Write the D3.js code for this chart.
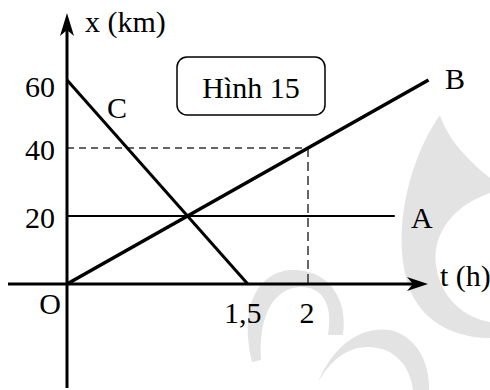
<!DOCTYPE html>
<html>
<head>
<meta charset="utf-8">
<script src="https://cdn.jsdelivr.net/npm/d3@7"></script>
<style>
  html, body { margin: 0; padding: 0; background: #fff; }
  svg { display: block; }
  text { font-family: "Liberation Serif", "DejaVu Serif", serif; fill: #000; }
</style>
</head>
<body>
<svg id="chart"></svg>
<script>
// position-time graph, three moving bodies
const tTicks = [1.5, 2];
const xTicks = [20, 40, 60];
const lineNames = ["A", "B", "C"];
const lineA = [{ t: 0, x: 20 }, { t: 2.72, x: 20 }];
const lineB = [{ t: 0, x: 0 }, { t: 3, x: 60 }];
const lineC = [{ t: 0, x: 60 }, { t: 1.5, x: 0 }];
const guidePoint = { t: 2, x: 40 };
const figureTitle = "Hình 15";

(function () {
    const W = 490, H = 390;
    const svg = d3.select("#chart").attr("width", W).attr("height", H);

    const x = d3.scaleLinear().domain([0, 3]).range([67, 428.5]);
    const y = d3.scaleLinear().domain([0, 60]).range([284, 80]);

    // watermark (light grey flourish behind the graph)
    const wm = svg.append("g").attr("fill", "#e3e3e3");
    wm.append("path").attr("d",
        "M440,115 C405,165 388,250 415,300 C432,328 462,338 490,338 L490,322 " +
        "C465,318 440,298 436,265 C432,232 455,205 490,193 L490,178 " +
        "C468,160 448,140 440,115 Z");
    wm.append("path").attr("d",
        "M252,362 C238,300 262,268 297,270 C330,272 348,300 343,335 L328,335 " +
        "C334,302 320,286 300,287 C276,288 258,312 261,360 Z");
    wm.append("path").attr("d",
        "M318,382 C334,344 362,326 390,330 C416,336 430,362 429,390 L413,390 " +
        "C410,366 395,348 370,347 C346,346 330,362 318,382 Z");

    const g = svg.append("g");

    // dashed guides to (2, 40)
    g.append("line")
        .attr("x1", x(0)).attr("x2", x(guidePoint.t))
        .attr("y1", y(guidePoint.x)).attr("y2", y(guidePoint.x))
        .attr("stroke", "#333").attr("stroke-width", 1.5).attr("stroke-dasharray", "7,5");
    g.append("line")
        .attr("x1", x(guidePoint.t)).attr("x2", x(guidePoint.t))
        .attr("y1", y(guidePoint.x)).attr("y2", y(0))
        .attr("stroke", "#333").attr("stroke-width", 1.5).attr("stroke-dasharray", "9,5");

    // axes
    g.append("line").attr("x1", x(0)).attr("x2", x(0)).attr("y1", 388).attr("y2", 28)
        .attr("stroke", "#000").attr("stroke-width", 3);
    g.append("line").attr("x1", 8).attr("x2", 414).attr("y1", y(0)).attr("y2", y(0))
        .attr("stroke", "#000").attr("stroke-width", 3);
    g.append("path")
        .attr("d", `M${x(0)},13 L${x(0) + 7},36 L${x(0)},30 L${x(0) - 7},36 Z`)
        .attr("fill", "#000");
    g.append("path")
        .attr("d", `M428,${y(0)} L407,${y(0) - 7} L413,${y(0)} L407,${y(0) + 7} Z`)
        .attr("fill", "#000");

    // graph lines
    const line = d3.line().x(d => x(d.t)).y(d => y(d.x));
    const series = [
        { name: lineNames[0], data: lineA, w: 2 },
        { name: lineNames[1], data: lineB, w: 3.5 },
        { name: lineNames[2], data: lineC, w: 3 }
    ];
    g.selectAll("path.series").data(series).join("path")
        .attr("class", "series")
        .attr("d", d => line(d.data))
        .attr("fill", "none").attr("stroke", "#000")
        .attr("stroke-width", d => d.w);

    // tick labels
    const fs = "30px";
    g.selectAll("text.ylab").data(xTicks).join("text")
        .attr("class", "ylab")
        .attr("x", 55).attr("y", d => y(d) + (d === 60 ? 17 : 12))
        .attr("text-anchor", "end").attr("font-size", fs)
        .text(d => d);
    g.selectAll("text.xlab").data(tTicks).join("text")
        .attr("class", "xlab")
        .attr("x", d => x(d) - (d === 1.5 ? 5 : 1)).attr("y", 323)
        .attr("text-anchor", "middle").attr("font-size", fs)
        .text(d => String(d).replace(".", ","));
    g.append("text").attr("x", 61).attr("y", 314).attr("text-anchor", "end")
        .attr("font-size", fs).text("O");

    // axis titles
    g.append("text").attr("x", 85).attr("y", 32).attr("font-size", fs).text("x (km)");
    g.append("text").attr("x", 440).attr("y", 286).attr("font-size", fs).text("t (h)");

    // line labels
    const labelPos = { A: [411, 228], B: [445, 89], C: [107, 118] };
    g.selectAll("text.lname").data(lineNames).join("text")
        .attr("class", "lname")
        .attr("x", d => labelPos[d][0]).attr("y", d => labelPos[d][1])
        .attr("font-size", fs).text(d => d);

    // figure caption box
    g.append("rect").attr("x", 177).attr("y", 57).attr("width", 148).attr("height", 58)
        .attr("rx", 10).attr("fill", "#fff").attr("stroke", "#000").attr("stroke-width", 1.5);
    g.append("text").attr("x", 251).attr("y", 98).attr("text-anchor", "middle")
        .attr("font-size", fs).text(figureTitle);
})();
</script>
</body>
</html>
